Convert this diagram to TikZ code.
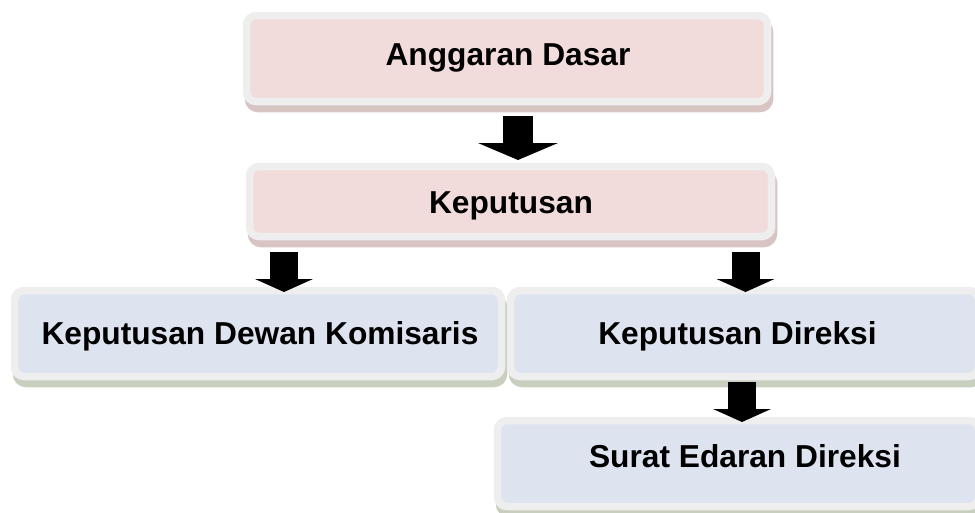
\documentclass[tikz,border=0pt]{standalone}
\usepackage{fontspec}
\setmainfont{Liberation Sans}
\usetikzlibrary{arrows.meta,calc,backgrounds}
\definecolor{rimgray}{RGB}{238,238,238}
\definecolor{pinkfill}{RGB}{242,220,219}
\definecolor{pinkshade}{RGB}{217,196,196}
\definecolor{bluefill}{RGB}{221,227,239}
\definecolor{blueshade}{RGB}{201,207,191}
\tikzset{
  box/.style={draw=rimgray, line width=7.5pt, rounded corners=9.5pt, inner sep=0pt, outer sep=0pt},
  pinkbox/.style={box, fill=pinkfill},
  bluebox/.style={box, fill=bluefill},
  boxtext/.style={anchor=base, inner sep=0.75pt, font=\fontsize{31.7}{36}\selectfont\bfseries},
  blockarrow/.style={line width=28pt, -{Triangle[width=58pt,length=13pt,line width=0pt]}},
  bigarrow/.style={line width=30pt, -{Triangle[width=80pt,length=17pt,line width=0pt]}}
}
\begin{document}
\begin{tikzpicture}[x=1pt,y=1pt,yscale=-1]
\useasboundingbox (0,0) rectangle (975,512);

%Shape: Rectangle
\node[pinkbox, minimum width=521, minimum height=86] (ad) at (507,58.5) {};
%Shape: Rectangle
\node[pinkbox, minimum width=522, minimum height=70] (kep) at (510.5,201.5) {};
%Shape: Rectangle
\node[bluebox, minimum width=487, minimum height=86] (kdk) at (258,333.5) {};
%Shape: Rectangle
\node[bluebox, minimum width=468, minimum height=86] (kd) at (744.5,333.5) {};
%Shape: Rectangle
\node[bluebox, minimum width=481, minimum height=86] (sed) at (738,463.5) {};

%Shadows
\begin{scope}[on background layer]
\foreach \b/\c in {ad/pinkshade,kep/pinkshade,kdk/blueshade,kd/blueshade,sed/blueshade}
  \draw[draw=\c, fill=\c, line width=7.5pt, rounded corners=9.5pt] ($(\b.north west)+(2,7)$) rectangle ($(\b.south east)+(2,7)$);
\end{scope}

%Straight Lines
\draw[bigarrow] ($(ad.south)+(11,14.5)$) -- ($(kep.north)+(7.5,-6.5)$);
%Straight Lines
\draw[blockarrow] ($(kep.south)+(-226.5,15.5)$) -- ($(kdk.north)+(26,1.5)$);
%Straight Lines
\draw[blockarrow] ($(kep.south)+(235,15.5)$) -- ($(kd.north)+(1,1.5)$);
%Straight Lines
\draw[blockarrow] ($(kd.south)+(-2.5,5.5)$) -- ($(sed.north)+(4,1.5)$);

% Text Node
\node[boxtext] (adtext) at (508,65) {Anggaran Dasar};
% Text Node
\node[boxtext] (keptext) at (511,213) {Keputusan};
% Text Node
\node[boxtext] (kdktext) at (260,344) {Keputusan Dewan Komisaris};
% Text Node
\node[boxtext] (kdtext) at (737.5,344) {Keputusan Direksi};
% Text Node
\node[boxtext] (sedtext) at (745,467) {Surat Edaran Direksi};
\end{tikzpicture}
\end{document}
